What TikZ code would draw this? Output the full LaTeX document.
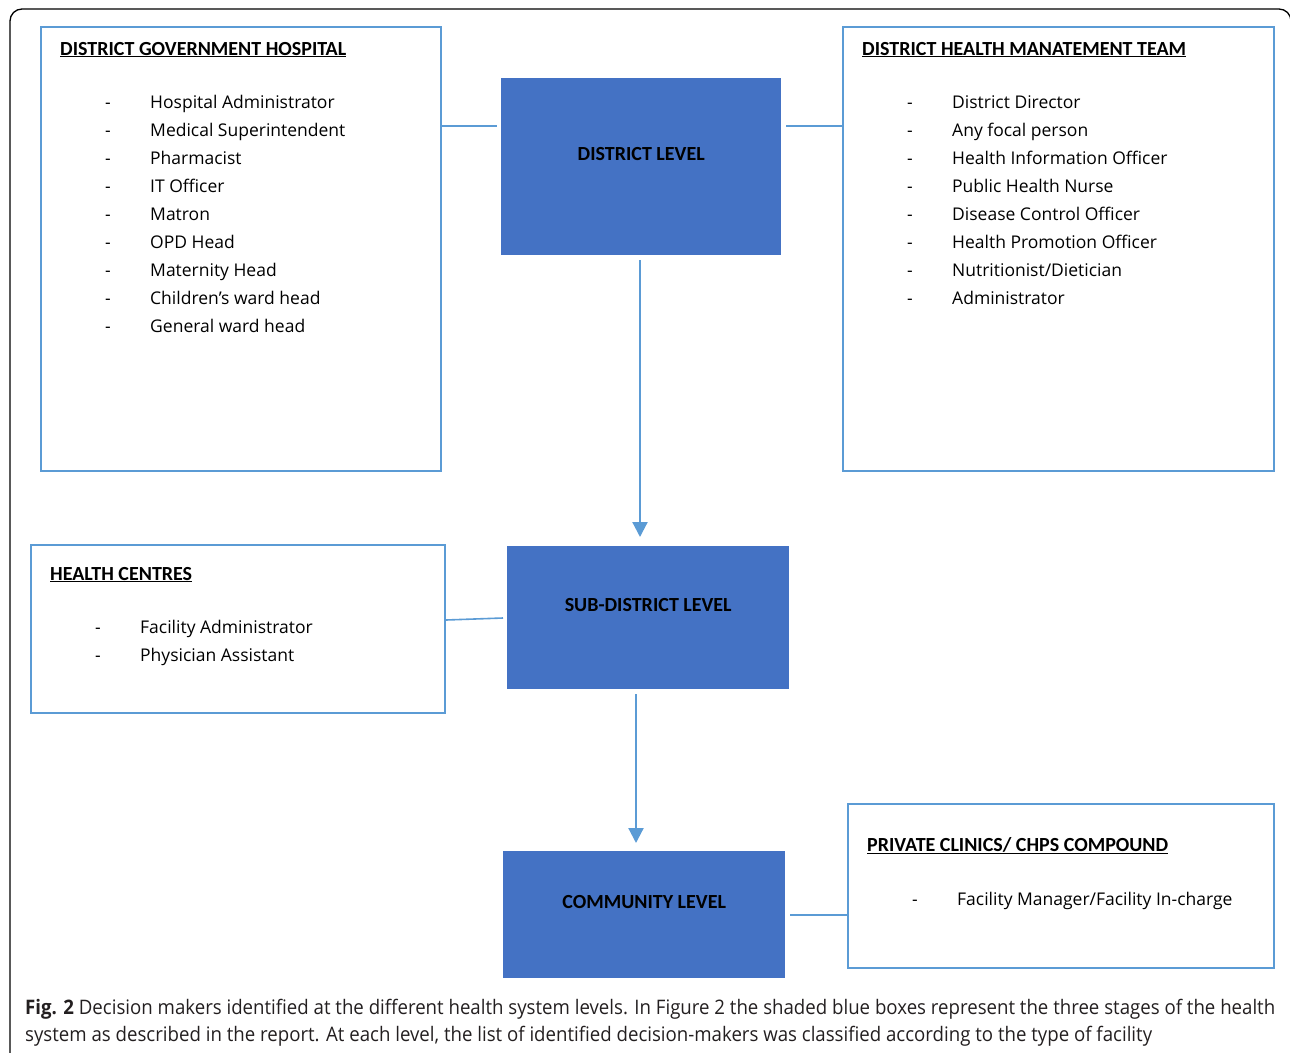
\documentclass[tikz,border=0pt]{standalone}
\usepackage{fontspec}
\setmainfont{Open Sans}
\newfontfamily\headfont{Carlito}
\newfontfamily\capfont[FakeStretch=0.932]{Open Sans}
\usetikzlibrary{arrows.meta}

\definecolor{levelblue}{HTML}{4472C4}
\definecolor{lineblue}{HTML}{5B9BD5}
\definecolor{captext}{HTML}{231F20}

\tikzset{
  listbox/.style={draw=lineblue,line width=2pt,anchor=north west,inner sep=0pt},
  levelbox/.style={fill=levelblue,anchor=north west,inner sep=0pt},
  levellabel/.style={yshift=13,font=\headfont\fontsize{20}{24}\selectfont\bfseries},
  head/.style={anchor=base west,inner sep=0pt,font=\headfont\fontsize{20}{24}\selectfont\bfseries},
  item/.style={anchor=base west,inner sep=0pt,font=\fontsize{17.5}{21}\selectfont},
  link/.style={lineblue,line width=1.6pt},
  flow/.style={lineblue,line width=2.2pt,-{Triangle[width=15pt,length=15pt]}}
}

\begin{document}
\begin{tikzpicture}[x=1pt,y=-1pt]
  \useasboundingbox (0,0) rectangle (1290,1052);
  % outer frame
  \begin{scope}
    \clip (0,0) rectangle (1290,1052);
    \draw[line width=1.3pt,rounded corners=12pt] (10,9) rectangle (1291,1070);
  \end{scope}

  % level boxes
  \node[levelbox,minimum width=280,minimum height=177] (district) at (501,78) {};
  \node[levellabel] (districtlabel) at (district.center) {DISTRICT LEVEL};
  \node[levelbox,minimum width=282,minimum height=143] (subdistrict) at (507,546) {};
  \node[levellabel] (subdistrictlabel) at (subdistrict.center) {SUB-DISTRICT LEVEL};
  \node[levelbox,minimum width=282,minimum height=127] (community) at (503,851) {};
  \node[levellabel] (communitylabel) at (community.center) {COMMUNITY LEVEL};

  % facility boxes
  \node[listbox,minimum width=400,minimum height=444] (dgh) at (40,26) {};
  \node[listbox,minimum width=431,minimum height=444] (dhmt) at (842,26) {};
  \node[listbox,minimum width=414,minimum height=168] (hc) at (30,544) {};
  \node[listbox,minimum width=426,minimum height=164] (pc) at (847,803) {};

  \node[head] (dghhead) at (60,55) {\underline{DISTRICT GOVERNMENT HOSPITAL}};
  \foreach \t [count=\i from 0] in {Hospital Administrator,Medical Superintendent,Pharmacist,IT Officer,Matron,OPD Head,Maternity Head,Children’s ward head,General ward head} {
    \node[item] (dghdash\i) at (105,108+28*\i) {-};
    \node[item] (dghitem\i) at (150,108+28*\i) {\t};
  }

  \node[head] (dhmthead) at (862,55) {\underline{DISTRICT HEALTH MANATEMENT TEAM}};
  \foreach \t [count=\i from 0] in {District Director,Any focal person,Health Information Officer,Public Health Nurse,Disease Control Officer,Health Promotion Officer,Nutritionist/Dietician,Administrator} {
    \node[item] (dhmtdash\i) at (907,108+28*\i) {-};
    \node[item] (dhmtitem\i) at (952,108+28*\i) {\t};
  }

  \node[head] (hchead) at (50,580) {\underline{HEALTH CENTRES}};
  \foreach \t [count=\i from 0] in {Facility Administrator,Physician Assistant} {
    \node[item] (hcdash\i) at (95,633+28*\i) {-};
    \node[item] (hcitem\i) at (140,633+28*\i) {\t};
  }

  \node[head] (pchead) at (867,851) {\underline{PRIVATE CLINICS/ CHPS COMPOUND}};
  \node[item] (pcdash) at (912,905) {-};
  \node[item] (pcitem) at (957,905) {Facility Manager/Facility In-charge};

  % connectors
  \coordinate (top) at (0,126);
  \draw[link] (dgh.east |- top) -- ([xshift=-4]district.west |- top);
  \draw[link] ([xshift=5]district.east |- top) -- (dhmt.west |- top);
  \draw[link] (hc.east |- 0,620) -- ([xshift=-4]subdistrict.west |- 0,618);
  \draw[link] ([xshift=5]community.east |- 0,915) -- (pc.west |- 0,915);
  \draw[flow] ([yshift=-5]district.south -| 640,0) -- ([yshift=9]subdistrict.north -| 640,0);
  \draw[flow] ([yshift=-5]subdistrict.south -| 636,0) -- ([yshift=8]community.north -| 636,0);

  % caption
  \node[anchor=base west,inner sep=0pt,align=left,text=captext,font=\capfont\fontsize{20}{27}\selectfont] (caption) at (25,1041)
    {\textbf{Fig. 2} Decision makers identified at the different health system levels. In Figure 2 the shaded blue boxes represent the three stages of the health\\system as described in the report. At each level, the list of identified decision-makers was classified according to the type of facility};
\end{tikzpicture}
\end{document}
